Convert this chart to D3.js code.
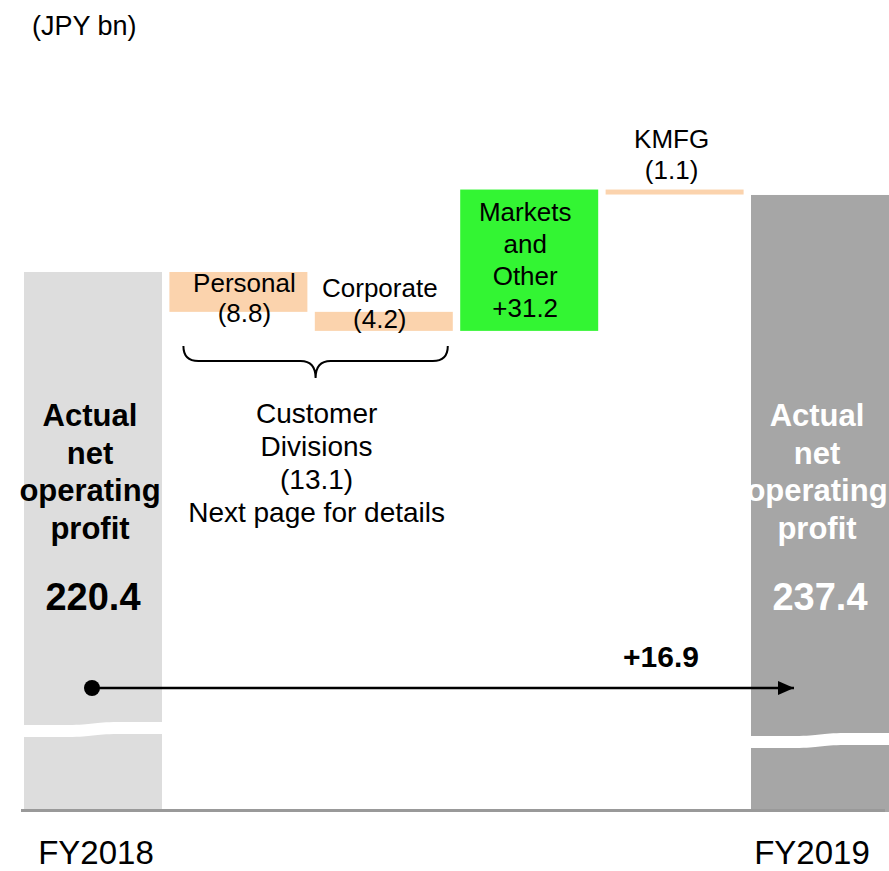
<!DOCTYPE html>
<html>
<head>
<meta charset="utf-8">
<script src="https://cdn.jsdelivr.net/npm/d3@7"></script>
<style>
   body { margin: 0; background: #fff; }
   text { font-family: "Liberation Sans", Arial, sans-serif; }
</style>
</head>
<body>
<div id="chart"></div>
<script>
// data
var categories = ['FY2018', 'Personal', 'Corporate', 'Markets and Other', 'KMFG', 'FY2019'];
var startValue = 220.4;
var endValue = 237.4;
var stepValues = [-8.8, -4.2, 31.2, -1.1];
var stepLabels = [['Personal', '(8.8)'], ['Corporate', '(4.2)'], ['Markets', 'and', 'Other', '+31.2'], ['KMFG', '(1.1)']];
var totalLabels = ['Actual', 'net', 'operating', 'profit'];
var yearLabels = ['FY2018', 'FY2019'];
var groupLabel = ['Customer', 'Divisions', '(13.1)', 'Next page for details'];
var changeLabel = '+16.9';
var unitLabel = '(JPY bn)';

var width = 889,
   height = 871;
var ground = 812;

var svg = d3.select('#chart').append('svg')
   .attr('width', width)
   .attr('height', height);

var x = d3.scaleBand()
   .domain(categories)
   .range([24, 889])
   .paddingInner(0.051)
   .paddingOuter(0);

// broken value axis: only the top part of the range is shown to scale
var y = d3.scaleLinear()
   .domain([200, 240])
   .range([364.4, 183.2]);

var peach = '#fbd3ad';
var green = '#33f533';

// build the waterfall steps
var steps = [];
var running = startValue;
stepValues.forEach(function(v, i) {
   steps.push({
      cat: categories[i + 1],
      from: running,
      to: running + v,
      value: v,
      label: stepLabels[i]
   });
   running += v;
});

// endpoint bars
var totals = [
   { cat: categories[0], value: startValue, fill: '#dddddd', text: '#000', year: yearLabels[0], dx: -3, yearX: 96 },
   { cat: categories[5], value: endValue, fill: '#a6a6a6', text: '#fff', year: yearLabels[1], dx: -3, yearX: 812 }
];

svg.selectAll('.total')
   .data(totals)
   .enter().append('rect')
   .attr('class', 'total')
   .attr('x', function(d) { return x(d.cat); })
   .attr('width', x.bandwidth())
   .attr('y', function(d) { return y(d.value); })
   .attr('height', function(d) { return ground - y(d.value); })
   .attr('fill', function(d) { return d.fill; });

// axis break marks (white wavy band)
var breaks = [
   { cat: categories[0], top: 725, shift: -3 },
   { cat: categories[5], top: 736, shift: -3 }
];

svg.selectAll('.break')
   .data(breaks)
   .enter().append('path')
   .attr('class', 'break')
   .attr('fill', '#fff')
   .attr('d', function(d) {
      var x0 = x(d.cat) - 1,
         x1 = x(d.cat) + x.bandwidth() + 1,
         xm = x(d.cat) + x.bandwidth() / 2,
         t0 = d.top,
         t1 = d.top + d.shift,
         h = 12;
      return 'M' + x0 + ',' + t0 +
         ' L' + (xm - 25) + ',' + t0 +
         ' C' + xm + ',' + t0 + ' ' + xm + ',' + t1 + ' ' + (xm + 25) + ',' + t1 +
         ' L' + x1 + ',' + t1 +
         ' L' + x1 + ',' + (t1 + h) +
         ' L' + (xm + 25) + ',' + (t1 + h) +
         ' C' + xm + ',' + (t1 + h) + ' ' + xm + ',' + (t0 + h) + ' ' + (xm - 25) + ',' + (t0 + h) +
         ' L' + x0 + ',' + (t0 + h) + ' Z';
   });

// baseline
svg.append('line')
   .attr('x1', 21)
   .attr('x2', 885)
   .attr('y1', 810.5)
   .attr('y2', 810.5)
   .attr('stroke', '#999999')
   .attr('stroke-width', 3);

// step bars
svg.selectAll('.step')
   .data(steps)
   .enter().append('rect')
   .attr('class', 'step')
   .attr('x', function(d) { return x(d.cat); })
   .attr('width', x.bandwidth())
   .attr('y', function(d) { return y(Math.max(d.from, d.to)); })
   .attr('height', function(d) { return Math.abs(y(d.from) - y(d.to)); })
   .attr('fill', function(d) { return d.value > 0 ? green : peach; });

// step labels, offset from the top of each bar
var labelOffsets = [20, -15, 31, -42];
var labelLeading = [30, 31, 32, 31];
var labelShift = [6, -4, -4, -3];

steps.forEach(function(d, i) {
   var top = y(Math.max(d.from, d.to));
   var t = svg.append('text')
      .attr('text-anchor', 'middle')
      .attr('font-size', 26)
      .attr('fill', '#000');
   t.selectAll('tspan')
      .data(d.label)
      .enter().append('tspan')
      .attr('x', x(d.cat) + x.bandwidth() / 2 + labelShift[i])
      .attr('y', function(s, j) { return top + labelOffsets[i] + j * labelLeading[i]; })
      .text(function(s) { return s; });
});

// curly brace under the customer divisions
var bx0 = x(categories[1]) + 14,
   bx1 = x(categories[2]) + x.bandwidth() - 5,
   bm = (bx0 + bx1) / 2;
svg.append('path')
   .attr('fill', 'none')
   .attr('stroke', '#000')
   .attr('stroke-width', 2)
   .attr('d', 'M' + bx0 + ',346 Q' + bx0 + ',361 ' + (bx0 + 15) + ',361 L' + (bm - 15) + ',361 Q' + bm + ',361 ' + bm + ',378' +
      ' Q' + bm + ',361 ' + (bm + 15) + ',361 L' + (bx1 - 15) + ',361 Q' + bx1 + ',361 ' + bx1 + ',346');

svg.append('text')
   .attr('text-anchor', 'middle')
   .attr('font-size', 28)
   .selectAll('tspan')
   .data(groupLabel)
   .enter().append('tspan')
   .attr('x', bm + 1)
   .attr('y', function(s, j) { return 423 + j * 33; })
   .text(function(s) { return s; });

// labels inside the endpoint bars
totals.forEach(function(d) {
   var cx = x(d.cat) + x.bandwidth() / 2 + d.dx;
   var t = svg.append('text')
      .attr('text-anchor', 'middle')
      .attr('font-size', 31)
      .attr('font-weight', 'bold')
      .attr('fill', d.text);
   t.selectAll('tspan')
      .data(totalLabels)
      .enter().append('tspan')
      .attr('x', cx)
      .attr('y', function(s, j) { return 426 + j * 37.5; })
      .text(function(s) { return s; });
   svg.append('text')
      .attr('x', cx + 3)
      .attr('y', 610)
      .attr('text-anchor', 'middle')
      .attr('font-size', 38)
      .attr('font-weight', 'bold')
      .attr('fill', d.text)
      .text(d3.format('.1f')(d.value));
   svg.append('text')
      .attr('x', d.yearX)
      .attr('y', 864)
      .attr('text-anchor', 'middle')
      .attr('font-size', 33)
      .attr('fill', '#000')
      .text(d.year);
});

// change arrow
var defs = svg.append('defs');
defs.append('marker')
   .attr('id', 'head')
   .attr('viewBox', '0 0 16 14')
   .attr('refX', 16)
   .attr('refY', 7)
   .attr('markerWidth', 16)
   .attr('markerHeight', 14)
   .attr('markerUnits', 'userSpaceOnUse')
   .attr('orient', 'auto')
   .append('path')
   .attr('d', 'M0,0 L16,7 L0,14 Z')
   .attr('fill', '#000');

var arrowY = 688;
svg.append('line')
   .attr('x1', 92)
   .attr('x2', 794)
   .attr('y1', arrowY)
   .attr('y2', arrowY)
   .attr('stroke', '#000')
   .attr('stroke-width', 2.5)
   .attr('marker-end', 'url(#head)');

svg.append('circle')
   .attr('cx', 92)
   .attr('cy', arrowY)
   .attr('r', 8)
   .attr('fill', '#000');

svg.append('text')
   .attr('x', 661)
   .attr('y', 667)
   .attr('text-anchor', 'middle')
   .attr('font-size', 30)
   .attr('font-weight', 'bold')
   .text(changeLabel);

// unit
svg.append('text')
   .attr('x', 32)
   .attr('y', 35)
   .attr('font-size', 27)
   .text(unitLabel);
</script>
</body>
</html>
